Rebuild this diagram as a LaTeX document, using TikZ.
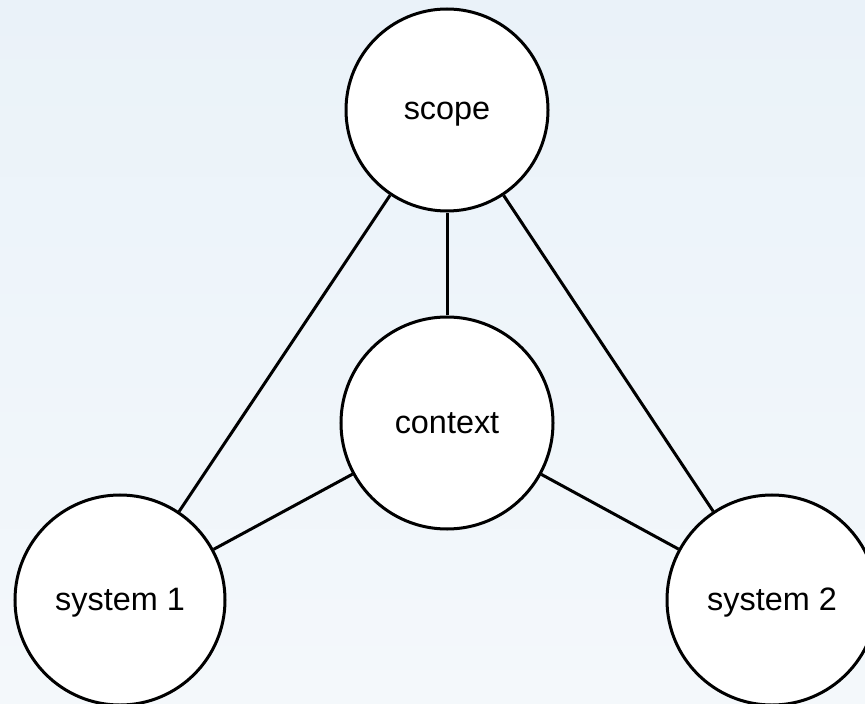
\documentclass[tikz,border=0pt]{standalone}
\usepackage{fontspec}
\setmainfont{Liberation Sans}
\definecolor{bgtop}{RGB}{234,242,249}
\definecolor{bgbot}{RGB}{244,248,251}
\begin{document}
\begin{tikzpicture}[x=0.5bp,y=-0.5bp,
  bubble/.style={circle,draw=black,fill=white,line width=1.5bp,inner sep=0pt,
    text height=12.2bp,text depth=2.2bp,
    font=\fontsize{16.2bp}{19bp}\selectfont},
  link/.style={draw=black,line width=1.5bp}]
  % background
  \shade[top color=bgtop,bottom color=bgbot] (0,0) rectangle (865,704);
  \useasboundingbox (0,0) rectangle (865,704);
  % nodes
  \node[bubble,minimum size=101bp] (scope)   at (447,110) {scope};
  \node[bubble,minimum size=106bp] (context) at (447,423) {context};
  \node[bubble,minimum size=105bp] (sys1)    at (120,600) {system 1};
  \node[bubble,minimum size=105bp] (sys2)    at (772,600) {system 2};
  % connectors
  \draw[link] (scope) -- (context);
  \draw[link] (scope) -- (sys1);
  \draw[link] (scope) -- (sys2);
  \draw[link] (context) -- (sys1);
  \draw[link] (context) -- (sys2);
\end{tikzpicture}
\end{document}
